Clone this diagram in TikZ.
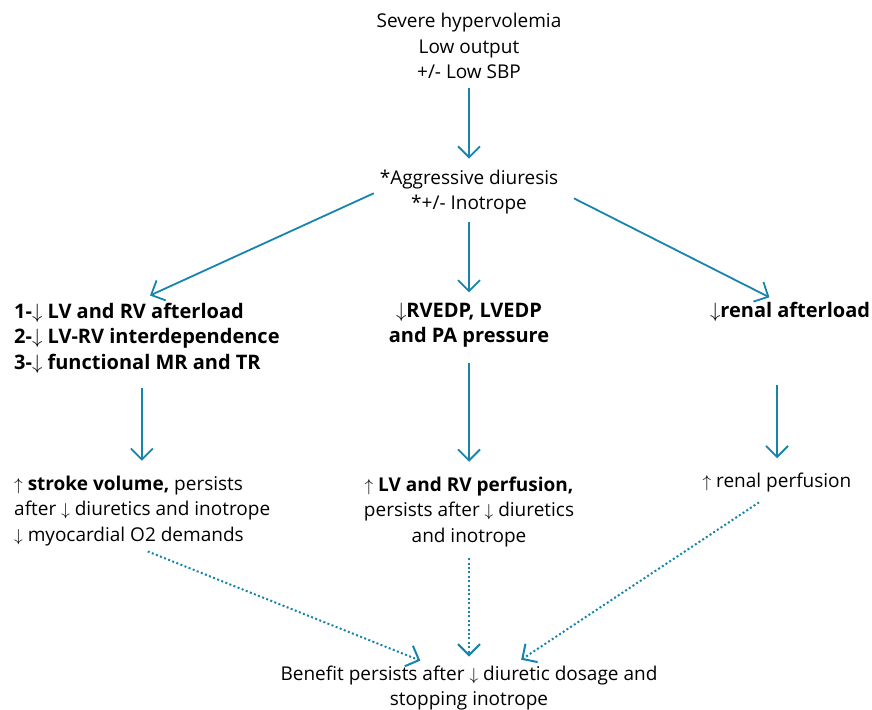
\documentclass[tikz,border=0pt]{standalone}
\usepackage{fontspec}
\setmainfont{Open Sans}
\usetikzlibrary{arrows.meta}
\definecolor{arrowblue}{RGB}{22,132,172}
\newcommand{\dn}{$\downarrow$}
\newcommand{\up}{$\uparrow$}

\begin{document}
\begin{tikzpicture}[x=1pt,y=-1pt,
    every node/.style={font=\fontsize{19}{25.5}\selectfont,inner sep=3pt},
    heavy/.style={font=\fontsize{20}{25.5}\selectfont\bfseries},
    arr/.style={draw=arrowblue,line width=1.8pt,-{Straight Barb[length=11pt,width=22pt]}},
    dotarr/.style={arr,line width=2pt,dash pattern=on 2pt off 2.4pt}]
    \useasboundingbox (0,0) rectangle (872,709);

    \node (top) at (469,46) [align=center] {Severe hypervolemia\\Low output\\+/- Low SBP};
    \node (mid) at (469,192) [align=center] {*Aggressive diuresis\\*+/- Inotrope};
    \node (lft) at (11,338) [anchor=west,align=left,heavy]
        {1-\dn\ LV and RV afterload\\2-\dn\ LV-RV interdependence\\3-\dn\ functional MR and TR};
    \node (ctr) at (469,325) [align=center,heavy] {\dn RVEDP, LVEDP\\and PA pressure};
    \node (rgt) at (790,312) [heavy] {\dn renal afterload};
    \node (lsv) at (11,511) [anchor=west,align=left]
        {\up\ \textbf{stroke volume,} persists\\after \dn\ diuretics and inotrope\\\dn\ myocardial O2 demands};
    \node (mpf) at (469,512) [align=center]
        {\up\ \textbf{LV and RV perfusion,}\\persists after \dn\ diuretics\\and inotrope};
    \node (rpf) at (777,483) {\up\ renal perfusion};
    \node (ben) at (469,688) [align=center] {Benefit persists after \dn\ diuretic dosage and\\stopping inotrope};

    \path
    (top) edge [arr,shorten <=6pt,shorten >=8pt] (mid)
    (mid.west) edge [arr,shorten <=3pt,shorten >=10pt] ([xshift=-6pt]lft.north)
    (mid) edge [arr,shorten <=5pt,shorten >=7pt] (ctr)
    (mid.east) edge [arr,shorten <=14pt,shorten >=4pt] ([xshift=-17pt]rgt.north)
    ([xshift=-5pt]lft.south) edge [arr,shorten <=12pt,shorten >=12pt] ([xshift=-5pt]lft.south |- lsv.north)
    (ctr.south) edge [arr,shorten <=12pt,shorten >=12pt] (mpf.north)
    ([xshift=-13pt]rgt.south) edge [arr,shorten <=60pt,shorten >=12pt] ([xshift=-13pt]rgt.south |- rpf.north)
    (lsv.south) edge [dotarr,shorten <=6pt,shorten >=5pt] ([xshift=-44pt]ben.north)
    (mpf.south) edge [dotarr,shorten <=8pt,shorten >=6pt] (ben.north)
    ([xshift=-8pt]rpf.south) edge [dotarr,shorten <=12pt,shorten >=5pt] ([xshift=48pt]ben.north)
    ;
\end{tikzpicture}
\end{document}
